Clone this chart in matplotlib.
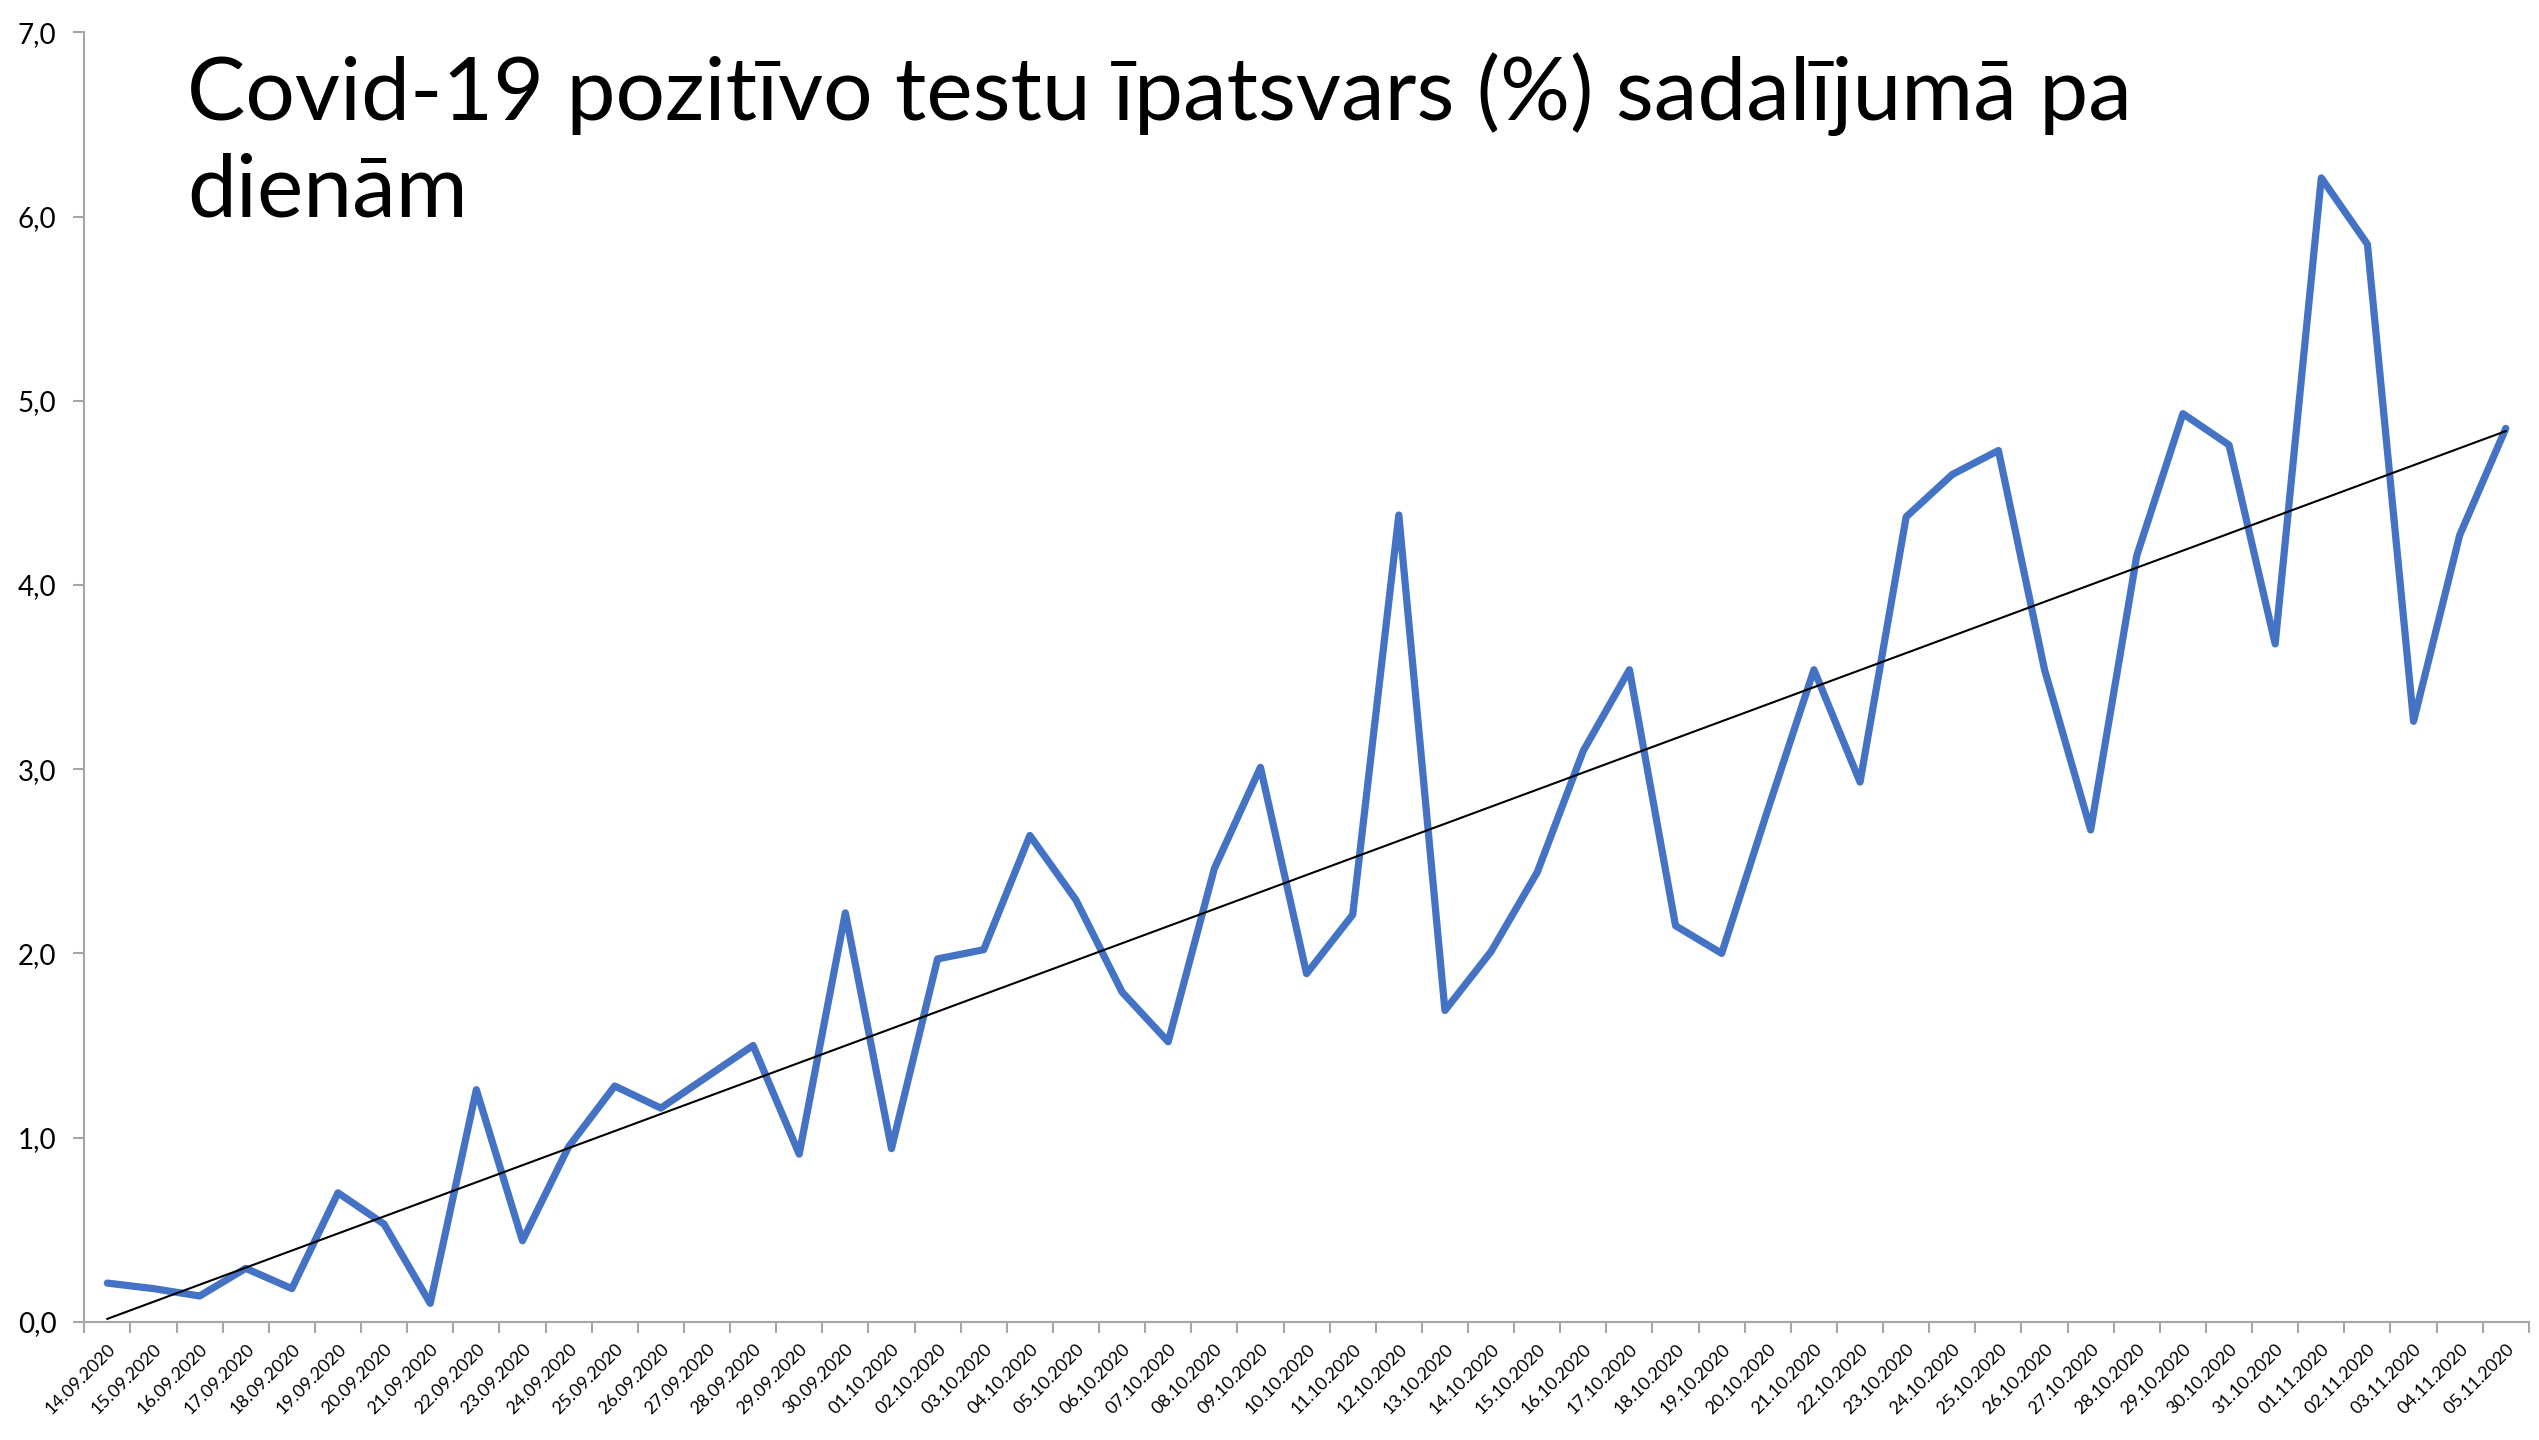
import numpy as np
import matplotlib
matplotlib.use("Agg")
import matplotlib.pyplot as plt
from matplotlib.ticker import FuncFormatter

# dates (dd.mm.yyyy) and daily share of positive tests (%)
dates = [
    "14.09.2020", "15.09.2020", "16.09.2020", "17.09.2020", "18.09.2020",
    "19.09.2020", "20.09.2020", "21.09.2020", "22.09.2020", "23.09.2020",
    "24.09.2020", "25.09.2020", "26.09.2020", "27.09.2020", "28.09.2020",
    "29.09.2020", "30.09.2020", "01.10.2020", "02.10.2020", "03.10.2020",
    "04.10.2020", "05.10.2020", "06.10.2020", "07.10.2020", "08.10.2020",
    "09.10.2020", "10.10.2020", "11.10.2020", "12.10.2020", "13.10.2020",
    "14.10.2020", "15.10.2020", "16.10.2020", "17.10.2020", "18.10.2020",
    "19.10.2020", "20.10.2020", "21.10.2020", "22.10.2020", "23.10.2020",
    "24.10.2020", "25.10.2020", "26.10.2020", "27.10.2020", "28.10.2020",
    "29.10.2020", "30.10.2020", "31.10.2020", "01.11.2020", "02.11.2020",
    "03.11.2020", "04.11.2020", "05.11.2020",
]
positive_share = [
    0.21, 0.18, 0.14, 0.29, 0.18, 0.70, 0.53, 0.10, 1.26, 0.44,
    0.95, 1.28, 1.16, 1.33, 1.50, 0.91, 2.22, 0.94, 1.97, 2.02,
    2.64, 2.29, 1.79, 1.52, 2.46, 3.01, 1.89, 2.21, 4.38, 1.69,
    2.01, 2.44, 3.10, 3.54, 2.15, 2.00, 2.78, 3.54, 2.93, 4.37,
    4.60, 4.73, 3.54, 2.67, 4.16, 4.93, 4.76, 3.68, 6.21, 5.85,
    3.26, 4.27, 4.85,
]
y_ticks = [0, 1, 2, 3, 4, 5, 6, 7]

title = "Covid-19 pozitīvo testu īpatsvars (%) sadalījumā pa\ndienām"

FONT = ["Lato", "DejaVu Sans"]
plt.rcParams["font.family"] = FONT

x = np.arange(len(dates))
y = np.array(positive_share)

# linear trend, like Excel's trendline
slope, intercept = np.polyfit(x, y, 1)
trend = slope * x + intercept

fig = plt.figure(figsize=(25.39, 14.40), dpi=100)
ax = fig.add_axes([0.0332, 0.0821, 0.9628, 0.8954])

ax.plot(x, y, color="#4472C4", linewidth=5.2, solid_joinstyle="round",
        solid_capstyle="round", zorder=3)
ax.plot(x, trend, color="black", linewidth=1.5, zorder=4)

ax.set_xlim(-0.5, len(dates) - 0.5)
ax.set_ylim(0, 7)

ax.set_yticks(y_ticks)
ax.yaxis.set_major_formatter(FuncFormatter(lambda v, p: f"{v:.1f}".replace(".", ",")))
ax.tick_params(axis="y", labelsize=20, length=8, width=1.5, color="#A6A6A6", pad=12)

# category labels centred, tick marks between categories
ax.set_xticks(x)
ax.set_xticklabels(dates, rotation=45, ha="right", rotation_mode="anchor", fontsize=13)
ax.set_xticks(np.arange(-0.5, len(dates)), minor=True)
ax.tick_params(axis="x", which="major", length=0, pad=14)
ax.tick_params(axis="x", which="minor", length=8, width=1.5, color="#A6A6A6")

for side in ["top", "right"]:
    ax.spines[side].set_visible(False)
for side in ["left", "bottom"]:
    ax.spines[side].set_color("#A6A6A6")
    ax.spines[side].set_linewidth(1.5)

ax.text(0.042, 0.985, title, transform=ax.transAxes, fontsize=63,
        va="top", ha="left", linespacing=1.26)

fig.savefig("out.png", dpi=100)
